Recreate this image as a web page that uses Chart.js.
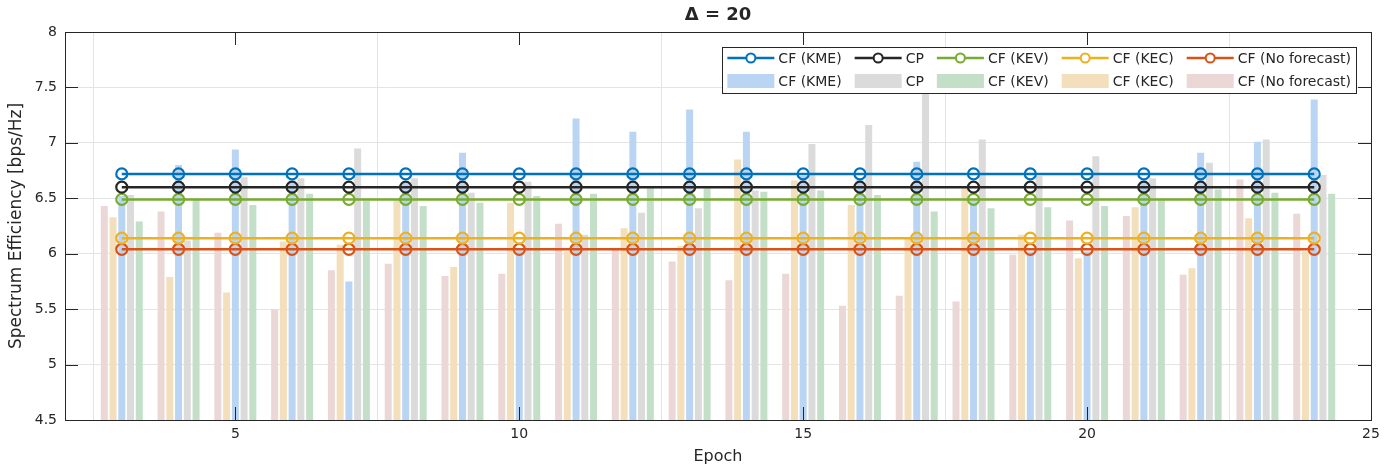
<!DOCTYPE html>
<html>
<head>
<meta charset="utf-8">
<script src="https://cdn.jsdelivr.net/npm/chart.js@4/dist/chart.umd.min.js"></script>
<style>
  html, body { margin: 0; padding: 0; background: #fff; }
  #wrap { width: 1395px; height: 468px; }
</style>
</head>
<body>
<div id="wrap"><canvas id="c" width="1395" height="468"></canvas></div>
<script>
var epochs = [3, 4, 5, 6, 7, 8, 9, 10, 11, 12, 13, 14, 15, 16, 17, 18, 19, 20, 21, 22, 23, 24];

// line series (one value per epoch)
var kmeLine        = [6.72, 6.72, 6.72, 6.72, 6.72, 6.72, 6.72, 6.72, 6.72, 6.72, 6.72, 6.72, 6.72, 6.72, 6.72, 6.72, 6.72, 6.72, 6.72, 6.72, 6.72, 6.72];
var cpLine         = [6.60, 6.60, 6.60, 6.60, 6.60, 6.60, 6.60, 6.60, 6.60, 6.60, 6.60, 6.60, 6.60, 6.60, 6.60, 6.60, 6.60, 6.60, 6.60, 6.60, 6.60, 6.60];
var kevLine        = [6.49, 6.49, 6.49, 6.49, 6.49, 6.49, 6.49, 6.49, 6.49, 6.49, 6.49, 6.49, 6.49, 6.49, 6.49, 6.49, 6.49, 6.49, 6.49, 6.49, 6.49, 6.49];
var kecLine        = [6.14, 6.14, 6.14, 6.14, 6.14, 6.14, 6.14, 6.14, 6.14, 6.14, 6.14, 6.14, 6.14, 6.14, 6.14, 6.14, 6.14, 6.14, 6.14, 6.14, 6.14, 6.14];
var noForecastLine = [6.04, 6.04, 6.04, 6.04, 6.04, 6.04, 6.04, 6.04, 6.04, 6.04, 6.04, 6.04, 6.04, 6.04, 6.04, 6.04, 6.04, 6.04, 6.04, 6.04, 6.04, 6.04];

// bar series (per epoch)
var noForecastBar = [6.43, 6.38, 6.19, 5.50, 5.85, 5.91, 5.80, 5.82, 6.27, 6.05, 5.93, 5.76, 5.82, 5.53, 5.62, 5.57, 5.99, 6.30, 6.34, 5.81, 6.67, 6.36];
var kecBar        = [6.33, 5.79, 5.65, 6.11, 6.08, 6.48, 5.88, 6.46, 6.02, 6.23, 6.07, 6.85, 6.66, 6.44, 6.14, 6.59, 6.17, 5.96, 6.42, 5.87, 6.32, 6.02];
var kmeBar        = [6.52, 6.80, 6.94, 6.66, 5.75, 6.65, 6.91, 6.03, 7.22, 7.10, 7.30, 7.10, 6.70, 6.68, 6.83, 6.48, 6.02, 6.02, 6.66, 6.91, 7.01, 7.39];
var cpBar         = [6.53, 6.12, 6.69, 6.68, 6.95, 6.68, 6.55, 6.65, 6.17, 6.37, 6.41, 6.57, 6.99, 7.16, 7.48, 7.03, 6.70, 6.88, 6.68, 6.82, 7.03, 6.71];
var kevBar        = [6.29, 6.49, 6.44, 6.54, 6.48, 6.43, 6.46, 6.52, 6.54, 6.59, 6.59, 6.56, 6.57, 6.53, 6.38, 6.41, 6.42, 6.43, 6.49, 6.58, 6.55, 6.54];

var xTicks = [5, 10, 15, 20, 25];
var titleText = '\u0394 = 20';
var xTitle = 'Epoch';
var yTitle = 'Spectrum Efficiency [bps/Hz]';

var FONT = "'DejaVu Sans', sans-serif";
var INK = '#262626';

function pts(vals) {
  return epochs.map(function(e, i) { return {x: e, y: vals[i]}; });
}

function lineSet(label, vals, color) {
  return {
    type: 'line', label: label, data: pts(vals),
    borderColor: color, borderWidth: 2.5, fill: false, tension: 0,
    pointRadius: 5.5, pointBorderWidth: 2.2, pointBorderColor: color,
    pointBackgroundColor: 'rgba(0,0,0,0)', pointStyle: 'circle'
  };
}

function barSet(label, vals, color) {
  return {
    type: 'bar', label: label, data: pts(vals),
    backgroundColor: color, borderWidth: 0,
    barPercentage: 0.8, categoryPercentage: 0.77
  };
}

// lines first so they are painted on top of the bars
var datasets = [
  lineSet('CF (KME)', kmeLine, '#0072BD'),
  lineSet('CP', cpLine, '#262626'),
  lineSet('CF (KEV)', kevLine, '#77AC30'),
  lineSet('CF (KEC)', kecLine, '#EDB120'),
  lineSet('CF (No forecast)', noForecastLine, '#D95319'),
  barSet('CF (No forecast)', noForecastBar, '#ecd7d7'),
  barSet('CF (KEC)', kecBar, '#f3dfbb'),
  barSet('CF (KME)', kmeBar, '#b9d5f3'),
  barSet('CP', cpBar, '#dbdbdb'),
  barSet('CF (KEV)', kevBar, '#c3dfc8')
];

// legend order: lines row then bars row
var legendRows = [[0, 1, 2, 3, 4], [7, 8, 9, 6, 5]];

var decor = {
  id: 'decor',
  afterDatasetsDraw: function(chart) {
    var ctx = chart.ctx, a = chart.chartArea;
    var xs = chart.scales.x, ys = chart.scales.y;
    ctx.save();
    ctx.strokeStyle = INK;
    ctx.lineWidth = 1;
    ctx.beginPath();
    var tl = 13;
    xTicks.forEach(function(v) {
      var px = Math.round(xs.getPixelForValue(v)) + 0.5;
      ctx.moveTo(px, a.bottom); ctx.lineTo(px, a.bottom - tl);
      ctx.moveTo(px, a.top); ctx.lineTo(px, a.top + tl);
    });
    ys.ticks.forEach(function(t) {
      var py = Math.round(ys.getPixelForValue(t.value)) + 0.5;
      ctx.moveTo(a.left, py); ctx.lineTo(a.left + tl, py);
      ctx.moveTo(a.right, py); ctx.lineTo(a.right - tl, py);
    });
    ctx.stroke();
    ctx.strokeRect(Math.round(a.left) + 0.5, Math.round(a.top) + 0.5,
                   Math.round(a.right - a.left), Math.round(a.bottom - a.top));
    ctx.restore();
  },
  afterDraw: function(chart) {
    var ctx = chart.ctx, a = chart.chartArea;
    ctx.save();
    ctx.fillStyle = INK;
    // title
    ctx.font = 'bold 18px ' + FONT;
    ctx.textAlign = 'center';
    ctx.textBaseline = 'middle';
    ctx.fillText(titleText, (a.left + a.right) / 2, 15);
    // axis titles
    ctx.font = '16px ' + FONT;
    ctx.fillText(xTitle, (a.left + a.right) / 2, 457);
    ctx.save();
    ctx.translate(17, (a.top + a.bottom) / 2);
    ctx.rotate(-Math.PI / 2);
    ctx.font = '17px ' + FONT;
    ctx.fillText(yTitle, 0, 0);
    ctx.restore();

    // legend box
    ctx.font = '14px ' + FONT;
    var sw = 47, gap1 = 4, gap2 = 13, pad = 5;
    var widths = legendRows[0].map(function(i, k) {
      var w0 = ctx.measureText(datasets[legendRows[0][k]].label).width;
      var w1 = ctx.measureText(datasets[legendRows[1][k]].label).width;
      return Math.max(w0, w1);
    });
    var total = pad;
    widths.forEach(function(w, k) { total += sw + gap1 + w + (k < widths.length - 1 ? gap2 : 0); });
    total += pad;
    var right = 1356, top = 47, bottom = 93;
    var left = right - total;
    ctx.fillStyle = '#fff';
    ctx.fillRect(left, top, total, bottom - top);
    ctx.strokeStyle = INK;
    ctx.lineWidth = 1;
    ctx.strokeRect(Math.round(left) + 0.5, top + 0.5, Math.round(total), bottom - top);
    var rowY = [58, 81];
    ctx.textAlign = 'left';
    ctx.textBaseline = 'middle';
    legendRows.forEach(function(row, r) {
      var x = left + pad;
      row.forEach(function(di, k) {
        var ds = datasets[di];
        var y = rowY[r];
        if (ds.type === 'line') {
          ctx.strokeStyle = ds.borderColor;
          ctx.lineWidth = 2.5;
          ctx.beginPath();
          ctx.moveTo(x, y); ctx.lineTo(x + sw, y);
          ctx.stroke();
          ctx.lineWidth = 2;
          ctx.beginPath();
          ctx.arc(x + sw / 2, y, 4.5, 0, Math.PI * 2);
          ctx.fillStyle = '#fff';
          ctx.fill();
          ctx.stroke();
        } else {
          ctx.fillStyle = ds.backgroundColor;
          ctx.fillRect(x, y - 7, sw, 14);
        }
        ctx.fillStyle = INK;
        ctx.fillText(ds.label, x + sw + gap1, y + 1);
        x += sw + gap1 + widths[k] + gap2;
      });
    });
    ctx.restore();
  }
};

new Chart(document.getElementById('c'), {
  type: 'bar',
  data: { datasets: datasets },
  options: {
    responsive: false,
    animation: false,
    layout: { padding: { top: 32, right: 24, left: 0, bottom: 0 } },
    plugins: {
      legend: { display: false },
      title: { display: false },
      tooltip: { enabled: false }
    },
    scales: {
      x: {
        type: 'linear', min: 2, max: 25, offset: false,
        afterFit: function(s) { s.height = 48; },
        ticks: {
          stepSize: 5, includeBounds: false, padding: 6,
          color: INK, font: { family: FONT, size: 14 }
        },
        grid: { color: '#e4e4e4', lineWidth: 1, drawTicks: false },
        border: { display: false }
      },
      y: {
        type: 'linear', min: 4.5, max: 8,
        afterFit: function(s) { s.width = 65; },
        ticks: {
          stepSize: 0.5, padding: 8,
          color: INK, font: { family: FONT, size: 14 },
          callback: function(v) { return String(v); }
        },
        grid: { color: '#e4e4e4', lineWidth: 1, drawTicks: false },
        border: { display: false }
      }
    }
  },
  plugins: [decor]
});
</script>
</body>
</html>
